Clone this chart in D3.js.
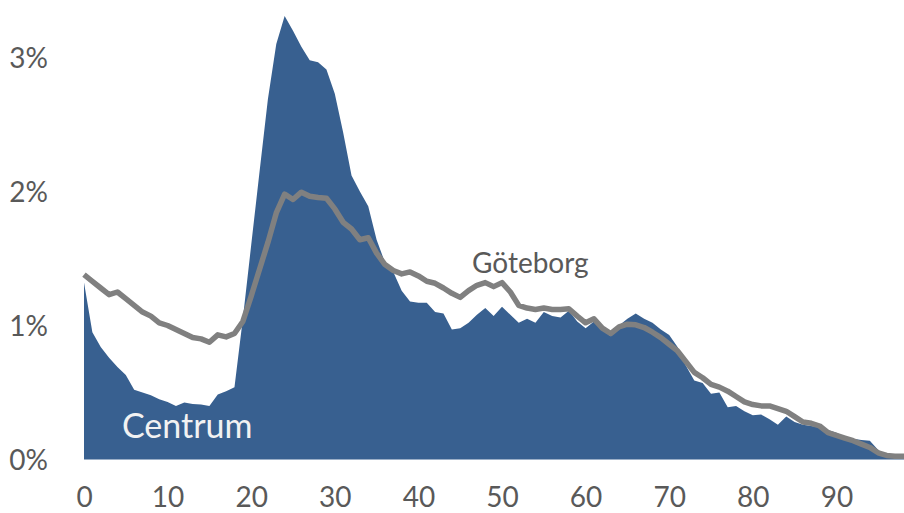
<!DOCTYPE html>
<html>
<head>
<meta charset="utf-8">
<script src="https://cdn.jsdelivr.net/npm/d3@7"></script>
<style>
  body { margin: 0; background: #fff; }
  svg { display: block; }
  .tick text { font-family: Lato, "Open Sans", sans-serif; fill: #595959; }
</style>
</head>
<body>
<div id="chart"></div>
<script>
var svgWidth = 904;
var svgHeight = 513;

// age 0..99
var ages = d3.range(0, 100);

// share of population per age, in percent
var centrum = [
  1.32, 0.95, 0.84, 0.76, 0.69, 0.63, 0.52, 0.50, 0.48, 0.45,
  0.43, 0.40, 0.425, 0.415, 0.41, 0.40, 0.485, 0.51, 0.54, 1.05,
  1.60, 2.15, 2.69, 3.10, 3.31, 3.20, 3.08, 2.98, 2.965, 2.91,
  2.73, 2.44, 2.12, 2.00, 1.89, 1.64, 1.47, 1.40, 1.26, 1.18,
  1.17, 1.17, 1.10, 1.09, 0.97, 0.98, 1.02, 1.08, 1.13, 1.07,
  1.14, 1.08, 1.02, 1.05, 1.02, 1.10, 1.07, 1.06, 1.11, 1.03,
  0.98, 1.03, 0.97, 0.92, 1.00, 1.05, 1.09, 1.05, 1.02, 0.97,
  0.93, 0.84, 0.70, 0.59, 0.57, 0.49, 0.50, 0.39, 0.40, 0.36,
  0.33, 0.335, 0.30, 0.26, 0.32, 0.28, 0.26, 0.25, 0.24, 0.22,
  0.20, 0.17, 0.155, 0.145, 0.14, 0.07, 0.03, 0.02, 0.015, 0.01
];

var goteborg = [
  1.38, 1.33, 1.28, 1.23, 1.25, 1.20, 1.15, 1.10, 1.07, 1.02,
  1.00, 0.97, 0.94, 0.91, 0.90, 0.875, 0.93, 0.915, 0.94, 1.03,
  1.22, 1.42, 1.62, 1.84, 1.98, 1.94, 1.995, 1.965, 1.955, 1.95,
  1.87, 1.77, 1.72, 1.64, 1.655, 1.54, 1.455, 1.41, 1.385, 1.40,
  1.37, 1.33, 1.315, 1.28, 1.24, 1.21, 1.26, 1.30, 1.32, 1.29,
  1.32, 1.25, 1.15, 1.13, 1.12, 1.13, 1.12, 1.12, 1.125, 1.07,
  1.02, 1.05, 0.98, 0.94, 0.99, 1.01, 1.005, 0.985, 0.95, 0.91,
  0.86, 0.81, 0.73, 0.65, 0.61, 0.56, 0.54, 0.51, 0.47, 0.43,
  0.41, 0.40, 0.40, 0.38, 0.36, 0.32, 0.28, 0.27, 0.25, 0.20,
  0.18, 0.16, 0.14, 0.115, 0.09, 0.05, 0.03, 0.025, 0.025, 0.02
];

var xTicks = [0, 10, 20, 30, 40, 50, 60, 70, 80, 90];
var yTicks = [0, 1, 2, 3];

var svg = d3.select("#chart")
  .append("svg")
  .attr("width", svgWidth)
  .attr("height", svgHeight);

var xScale = d3.scaleLinear()
  .domain([0, 100])
  .range([84, 920]);

var yScale = d3.scaleLinear()
  .domain([0, 3.4])
  .range([459.5, 459.5 - 3.4 * 134]);

var data = ages.map(function(a, i) {
  return { age: a, c: centrum[i], g: goteborg[i] };
});

// Centrum area
var area = d3.area()
  .x(d => xScale(d.age))
  .y0(yScale(0))
  .y1(d => yScale(d.c));

svg.append("path")
  .datum(data)
  .attr("d", area)
  .attr("fill", "#386090");

// Göteborg line
var line = d3.line()
  .x(d => xScale(d.age))
  .y(d => yScale(d.g));

svg.append("path")
  .datum(data)
  .attr("d", line)
  .attr("fill", "none")
  .attr("stroke", "#808080")
  .attr("stroke-width", 5.5)
  .attr("stroke-linejoin", "round");

// axes
var bottomAxis = d3.axisBottom(xScale)
  .tickValues(xTicks)
  .tickSize(0)
  .tickPadding(0);

var xAxis = svg.append("g")
  .attr("transform", "translate(0, 507)")
  .call(bottomAxis);
xAxis.select(".domain").remove();
xAxis.selectAll("text")
  .attr("dy", null)
  .attr("y", 0)
  .style("font-size", "28px");

var leftAxis = d3.axisLeft(yScale)
  .tickValues(yTicks)
  .tickSize(0)
  .tickPadding(0)
  .tickFormat(d => d + "%");

var yAxis = svg.append("g")
  .attr("transform", "translate(48, 0)")
  .call(leftAxis);
yAxis.select(".domain").remove();
yAxis.selectAll("text")
  .attr("x", 0)
  .attr("dy", "0.36em")
  .style("font-size", "28px");

// series labels
svg.append("text")
  .attr("x", 122)
  .attr("y", 438)
  .attr("fill", "#f2f2f2")
  .style("font-family", "Lato, 'Open Sans', sans-serif")
  .style("font-size", "34px")
  .text("Centrum");

svg.append("text")
  .attr("x", 472)
  .attr("y", 273)
  .attr("fill", "#595959")
  .style("font-family", "Lato, 'Open Sans', sans-serif")
  .style("font-size", "28px")
  .text("Göteborg");
</script>
</body>
</html>
